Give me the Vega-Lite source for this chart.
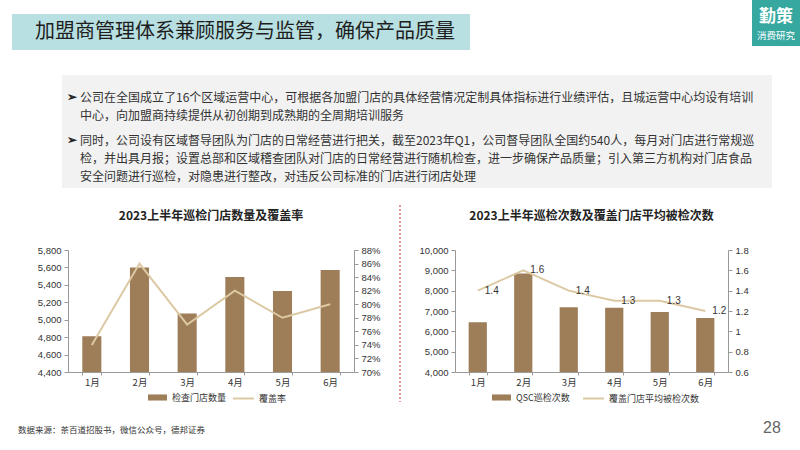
{
  "$schema": "https://vega.github.io/schema/vega-lite/v6.json",
  "padding": 0,
  "background": "white",
  "bounds": "flush",
  "spacing": 0,
  "config": {
    "view": {"stroke": null},
    "axis": {"domainColor": "#999999", "tickColor": "#999999", "labelColor": "#333333", "labelFont": "Liberation Sans", "labelFontSize": 9.5, "grid": false, "tickSize": 4, "labelPadding": 3},
    "axisX": {"labelFont": "Noto Sans CJK SC", "labelFontSize": 9.5, "labelAngle": 0, "tickBand": "extent", "tickSize": 3, "labelPadding": 2},
    "legend": {"labelFont": "Noto Sans CJK SC", "labelFontSize": 9, "labelColor": "#333333", "padding": 0},
    "title": {"font": "Noto Sans CJK SC", "fontSize": 12, "fontWeight": "bold", "color": "#222222", "offset": 22}
  },
  "vconcat": [
    {
      "width": 800,
      "height": 250,
      "layer": [
        {"data": {"values": [{}]}, "mark": {"type": "rect", "x": 12, "x2": 470, "y": 14, "y2": 50, "fill": "#b8dfe1"}},
        {"data": {"values": [{"t": "加盟商管理体系兼顾服务与监管，确保产品质量"}]}, "mark": {"type": "text", "x": 35, "y": 32, "align": "left", "baseline": "middle", "font": "Noto Sans CJK SC", "fontSize": 20, "color": "#1e1e1e"}, "encoding": {"text": {"field": "t"}}},
        {"data": {"values": [{}]}, "mark": {"type": "rect", "x": 752, "x2": 800, "y": 0, "y2": 46, "fill": "#36a8a0"}},
        {"data": {"values": [{"t": "勤策"}]}, "mark": {"type": "text", "x": 776, "y": 17, "align": "center", "baseline": "middle", "font": "Noto Sans CJK SC", "fontSize": 17, "fontWeight": "bold", "color": "white"}, "encoding": {"text": {"field": "t"}}},
        {"data": {"values": [{"t": "消费研究"}]}, "mark": {"type": "text", "x": 776, "y": 36, "align": "center", "baseline": "middle", "font": "Noto Sans CJK SC", "fontSize": 9.5, "color": "white"}, "encoding": {"text": {"field": "t"}}},
        {"data": {"values": [{}]}, "mark": {"type": "rect", "x": 62, "x2": 772, "y": 75, "y2": 188, "fill": "#f2f2f2"}},
        {"data": {"values": [{"t": "➢"}]}, "mark": {"type": "text", "x": 67, "y": 97, "align": "left", "baseline": "middle", "fontSize": 12, "fontWeight": "bold", "color": "#222222"}, "encoding": {"text": {"field": "t"}}},
        {"data": {"values": [{"t": "➢"}]}, "mark": {"type": "text", "x": 67, "y": 140, "align": "left", "baseline": "middle", "fontSize": 12, "fontWeight": "bold", "color": "#222222"}, "encoding": {"text": {"field": "t"}}},
        {"data": {"values": [{"t": "公司在全国成立了16个区域运营中心，可根据各加盟门店的具体经营情况定制具体指标进行业绩评估，且城运营中心均设有培训\n中心，向加盟商持续提供从初创期到成熟期的全周期培训服务"}]}, "mark": {"type": "text", "x": 80, "y": 101.5, "align": "left", "baseline": "alphabetic", "lineBreak": "\n", "lineHeight": 18, "font": "Noto Sans CJK SC", "fontSize": 12, "color": "#333333"}, "encoding": {"text": {"field": "t"}}},
        {"data": {"values": [{"t": "同时，公司设有区域督导团队为门店的日常经营进行把关，截至2023年Q1，公司督导团队全国约540人，每月对门店进行常规巡\n检，并出具月报；设置总部和区域稽查团队对门店的日常经营进行随机检查，进一步确保产品质量；引入第三方机构对门店食品\n安全问题进行巡检，对隐患进行整改，对违反公司标准的门店进行闭店处理"}]}, "mark": {"type": "text", "x": 80, "y": 144.5, "align": "left", "baseline": "alphabetic", "lineBreak": "\n", "lineHeight": 18, "font": "Noto Sans CJK SC", "fontSize": 12, "color": "#333333"}, "encoding": {"text": {"field": "t"}}},
        {"data": {"values": [{}]}, "mark": {"type": "rule", "stroke": "#d9534f", "strokeDash": [2, 2], "strokeWidth": 1.2}, "encoding": {"x": {"value": 400}, "y": {"value": 205}, "y2": {"value": 402}}},
        {"data": {"values": [{"t": "数据来源：茶百道招股书，微信公众号，德邦证券"}]}, "mark": {"type": "text", "x": 18, "y": 430, "align": "left", "baseline": "middle", "font": "Noto Sans CJK SC", "fontSize": 8.5, "color": "#333333"}, "encoding": {"text": {"field": "t"}}},
        {"data": {"values": [{"t": "28"}]}, "mark": {"type": "text", "x": 772, "y": 428, "align": "center", "baseline": "middle", "font": "Liberation Sans", "fontSize": 16, "color": "#666666"}, "encoding": {"text": {"field": "t"}}}
      ]
    },
    {
      "hconcat": [
        {"width": 68, "height": 122, "data": {"values": [{}]}, "mark": {"type": "point", "opacity": 0}},
        {
          "width": 286,
          "height": 122,
          "title": {"text": "2023上半年巡检门店数量及覆盖率"},
          "data": {"values": [
            {"m": "1月", "n": 4810, "r": 0.74},
            {"m": "2月", "n": 5600, "r": 0.86},
            {"m": "3月", "n": 5070, "r": 0.77},
            {"m": "4月", "n": 5490, "r": 0.82},
            {"m": "5月", "n": 5330, "r": 0.78},
            {"m": "6月", "n": 5570, "r": 0.80}
          ]},
          "encoding": {"x": {"field": "m", "type": "ordinal", "sort": null, "scale": {"paddingInner": 0.6, "paddingOuter": 0.3}, "axis": {"title": null}}},
          "layer": [
            {
              "mark": {"type": "bar", "clip": true},
              "encoding": {
                "y": {"field": "n", "type": "quantitative", "scale": {"domain": [4400, 5800], "zero": false, "nice": false}, "axis": {"orient": "left", "title": null, "values": [4400, 4600, 4800, 5000, 5200, 5400, 5600, 5800], "format": ",.0f"}},
                "fill": {"datum": "检查门店数量", "type": "nominal", "scale": {"range": ["#9e7d59"]}, "legend": {"title": null, "orient": "none", "legendX": 79, "legendY": 137, "symbolType": "M-1,-0.32H1V0.32H-1Z", "symbolSize": 361}}
              }
            },
            {
              "mark": {"type": "line", "strokeWidth": 2},
              "encoding": {
                "y": {"field": "r", "type": "quantitative", "scale": {"domain": [0.7, 0.88], "zero": false, "nice": false}, "axis": {"orient": "right", "title": null, "values": [0.70, 0.72, 0.74, 0.76, 0.78, 0.80, 0.82, 0.84, 0.86, 0.88], "format": ".0%"}},
                "stroke": {"datum": "覆盖率", "type": "nominal", "scale": {"range": ["#dcc9a4"]}, "legend": {"title": null, "orient": "none", "legendX": 164, "legendY": 137, "symbolType": "M-1,0H1", "symbolSize": 441, "symbolStrokeWidth": 2}}
              }
            }
          ],
          "resolve": {"scale": {"y": "independent"}}
        },
        {"width": 101, "height": 122, "data": {"values": [{}]}, "mark": {"type": "point", "opacity": 0}},
        {
          "width": 273,
          "height": 122,
          "title": {"text": "2023上半年巡检次数及覆盖门店平均被检次数"},
          "data": {"values": [
            {"m": "1月", "q": 6450, "a": 1.4},
            {"m": "2月", "q": 8850, "a": 1.6},
            {"m": "3月", "q": 7180, "a": 1.4},
            {"m": "4月", "q": 7160, "a": 1.3},
            {"m": "5月", "q": 6950, "a": 1.3},
            {"m": "6月", "q": 6660, "a": 1.2}
          ]},
          "encoding": {"x": {"field": "m", "type": "ordinal", "sort": null, "scale": {"paddingInner": 0.6, "paddingOuter": 0.3}, "axis": {"title": null}}},
          "layer": [
            {
              "mark": {"type": "bar", "clip": true},
              "encoding": {
                "y": {"field": "q", "type": "quantitative", "scale": {"domain": [4000, 10000], "zero": false, "nice": false}, "axis": {"orient": "left", "title": null, "values": [4000, 5000, 6000, 7000, 8000, 9000, 10000], "format": ",.0f"}},
                "fill": {"datum": "QSC巡检次数", "type": "nominal", "scale": {"range": ["#9e7d59"]}, "legend": {"title": null, "orient": "none", "legendX": 36, "legendY": 137, "symbolType": "M-1,-0.32H1V0.32H-1Z", "symbolSize": 361}}
              }
            },
            {
              "encoding": {
                "y": {"field": "a", "type": "quantitative", "scale": {"domain": [0.6, 1.8], "zero": false, "nice": false}, "axis": {"orient": "right", "title": null, "values": [0.6, 0.8, 1.0, 1.2, 1.4, 1.6, 1.8], "format": ".2~f"}}
              },
              "layer": [
                {
                  "mark": {"type": "line", "strokeWidth": 2},
                  "encoding": {
                    "stroke": {"datum": "覆盖门店平均被检次数", "type": "nominal", "scale": {"range": ["#dcc9a4"]}, "legend": {"title": null, "orient": "none", "legendX": 127, "legendY": 137, "symbolType": "M-1,0H1", "symbolSize": 441, "symbolStrokeWidth": 2}}
                  }
                },
                {
                  "mark": {"type": "text", "dx": 14, "align": "center", "baseline": "middle", "font": "Liberation Sans", "fontSize": 10, "color": "#333333"},
                  "encoding": {"text": {"field": "a", "type": "quantitative", "format": ".1f"}}
                }
              ]
            }
          ],
          "resolve": {"scale": {"y": "independent"}}
        },
        {"width": 72, "height": 122, "data": {"values": [{}]}, "mark": {"type": "point", "opacity": 0}}
      ],
      "spacing": 0,
      "bounds": "flush",
      "resolve": {"scale": {"fill": "independent", "stroke": "independent"}, "legend": {"fill": "independent", "stroke": "independent"}}
    }
  ]
}
